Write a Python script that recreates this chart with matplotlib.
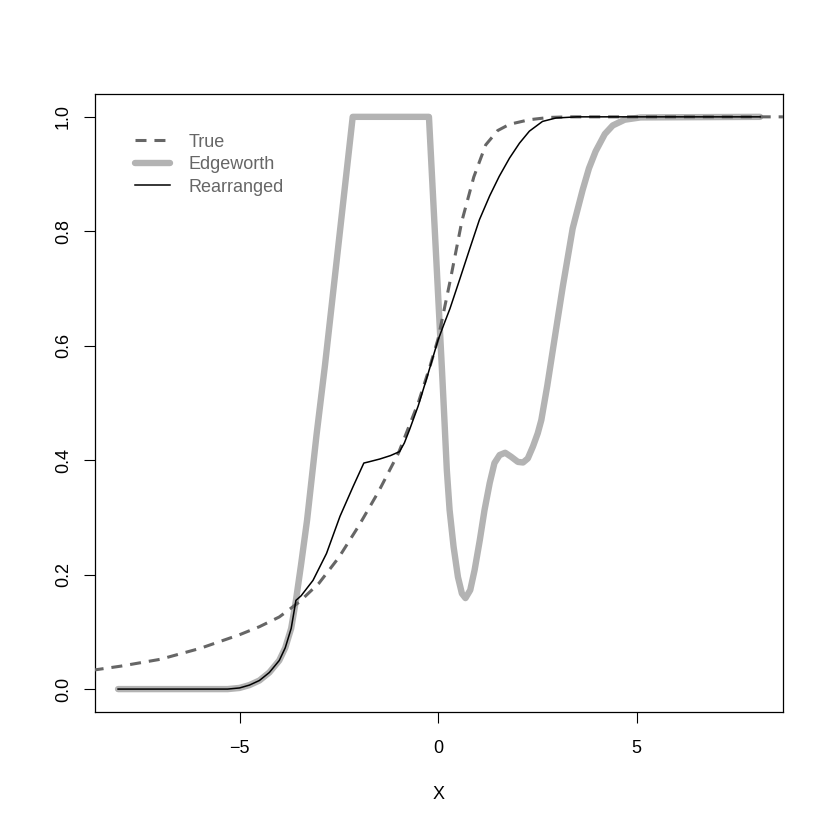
import numpy as np
import matplotlib.pyplot as plt

plt.rcParams['font.family'] = ['Liberation Sans', 'DejaVu Sans']

# values
true_x = [-8.7, -8.0, -7.0, -6.0, -5.0, -4.5, -4.0, -3.5, -3.0, -2.5, -2.0, -1.5,
          -1.0, -0.5, -0.2, 0.0, 0.3, 0.6, 0.9, 1.2, 1.5, 1.8, 2.3, 2.8, 3.3, 5.0, 8.7]
true_y = [0.033, 0.040, 0.052, 0.071, 0.095, 0.109, 0.126, 0.152, 0.185, 0.230, 0.285, 0.345,
          0.412, 0.500, 0.565, 0.612, 0.712, 0.818, 0.895, 0.951, 0.976, 0.987, 0.995, 0.999, 1.0, 1.0, 1.0]

edge_x = [-8.06, -6.0, -5.3, -5.0, -4.75, -4.5, -4.25, -4.0, -3.85, -3.7, -3.58, -3.45, -3.3,
          -3.06, -2.85, -2.56, -2.15, -0.23, 0.0, 0.1, 0.16, 0.22, 0.29, 0.39, 0.5, 0.6, 0.69, 0.81,
          0.92, 1.05, 1.17, 1.3, 1.42, 1.55, 1.69, 1.84, 2.01, 2.14, 2.26, 2.39, 2.51, 2.6,
          2.75, 2.97, 3.14, 3.39, 3.64, 3.8, 3.97, 4.2, 4.4, 4.7, 5.1, 8.11]
edge_y = [0.0, 0.0, 0.0, 0.002, 0.007, 0.015, 0.029, 0.05, 0.072, 0.106, 0.155, 0.218, 0.295,
          0.445, 0.565, 0.745, 1.0, 1.0, 0.69, 0.555, 0.47, 0.383, 0.313, 0.249, 0.196, 0.167, 0.159, 0.173,
          0.208, 0.26, 0.313, 0.36, 0.395, 0.409, 0.413, 0.406, 0.397, 0.396, 0.403, 0.424, 0.447, 0.47,
          0.53, 0.628, 0.703, 0.805, 0.872, 0.91, 0.94, 0.97, 0.985, 0.995, 0.999, 1.0]

rearr_x = [-8.06, -6.0, -5.3, -5.0, -4.75, -4.5, -4.25, -4.0, -3.85, -3.7, -3.58, -3.45, -3.15,
           -2.81, -2.47, -2.14, -1.87, -1.75, -1.47, -1.2, -0.97, -0.85, -0.72, -0.5, -0.3,
           -0.15, 0.0, 0.15, 0.3, 0.54, 0.8, 1.04, 1.3, 1.54, 1.8, 2.05, 2.3, 2.63, 2.97, 3.5, 8.11]
rearr_y = [0.0, 0.0, 0.0, 0.002, 0.007, 0.015, 0.029, 0.05, 0.072, 0.106, 0.155, 0.163, 0.19,
           0.237, 0.302, 0.354, 0.395, 0.397, 0.402, 0.408, 0.415, 0.43, 0.453, 0.495, 0.54,
           0.575, 0.61, 0.638, 0.665, 0.715, 0.77, 0.82, 0.862, 0.896, 0.928, 0.954, 0.975, 0.992, 0.998, 1.0, 1.0]

y_ticks = [0.0, 0.2, 0.4, 0.6, 0.8, 1.0]
x_ticks = [-5, 0, 5]

fig = plt.figure(figsize=(8.3, 8.3), dpi=100)
ax = fig.add_axes([0.1145, 0.1422, 0.829, 0.7446])

ax.plot(edge_x, edge_y, color='#b3b3b3', lw=4.6, solid_capstyle='round',
        solid_joinstyle='round', label='Edgeworth', zorder=2)
ax.plot(true_x, true_y, color='#666666', lw=2.2, dashes=(3.6, 2.6),
        label='True', zorder=3)
ax.plot(rearr_x, rearr_y, color='black', lw=1.1, label='Rearranged', zorder=4)

ax.set_xlim(-8.64, 8.69)
ax.set_ylim(-0.04, 1.04)
ax.set_xticks(x_ticks)
ax.set_xticklabels(['\u22125', '0', '5'])
ax.set_yticks(y_ticks)
ax.set_yticklabels(['%.1f' % v for v in y_ticks], rotation=90, va='center')
ax.tick_params(direction='out', length=8, width=0.8, labelsize=13)
ax.tick_params(axis='x', pad=12)
ax.tick_params(axis='y', pad=8.5)
for s in ax.spines.values():
    s.set_linewidth(0.9)
ax.set_xlabel('X', fontsize=13, labelpad=21)

h, l = ax.get_legend_handles_labels()
order = [1, 0, 2]
ax.legend([h[i] for i in order], [l[i] for i in order], loc='upper left',
          bbox_to_anchor=(0.058, 0.9356), frameon=False, fontsize=13,
          labelcolor='#666666', handlelength=1.95, handletextpad=1.0,
          labelspacing=0.3, borderpad=0, borderaxespad=0)

fig.savefig('out.png', dpi=100)
